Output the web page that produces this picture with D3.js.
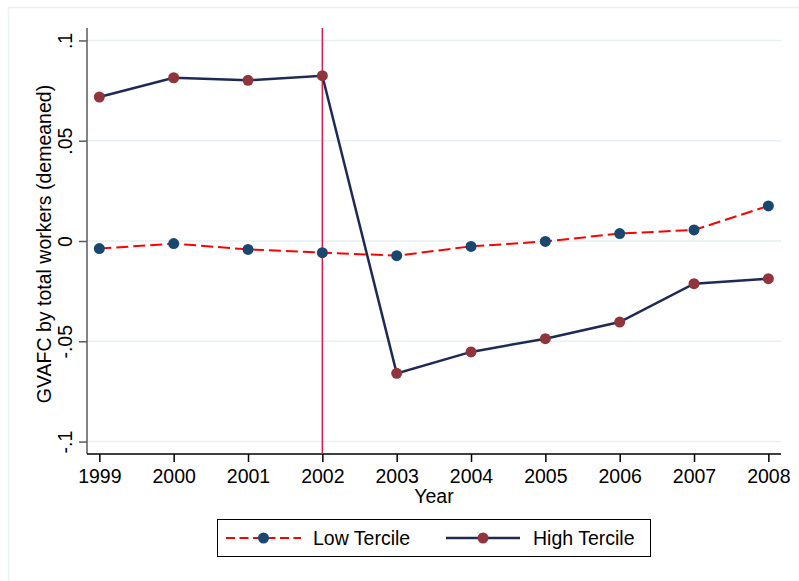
<!DOCTYPE html>
<html>
<head>
<meta charset="utf-8">
<script src="https://cdn.jsdelivr.net/npm/d3@7"></script>
<style>
  body { margin: 0; background: #fff; }
  svg { display: block; font-family: "Liberation Sans", Arial, sans-serif; }
</style>
</head>
<body>
<div id="chart"></div>
<script>
const years = [1999, 2000, 2001, 2002, 2003, 2004, 2005, 2006, 2007, 2008];
const lowTercile = [-0.0038, -0.0013, -0.0042, -0.0058, -0.0073, -0.0027, -0.0002, 0.0037, 0.0055, 0.0175];
const highTercile = [0.0718, 0.0814, 0.0801, 0.0824, -0.0660, -0.0553, -0.0487, -0.0404, -0.0213, -0.0188];
const yTicks = [-0.1, -0.05, 0, 0.05, 0.1];
const yTickLabels = ['-.1', '-.05', '0', '.05', '.1'];
const treatYear = 2002;
const seriesNames = ['Low Tercile', 'High Tercile'];

const width = 799, height = 581;
const margin = { top: 28, right: 18, bottom: 127, left: 87 };
const fontSize = 19.5;

const svg = d3.select('#chart')
    .append('svg')
    .attr('width', width)
    .attr('height', height);

// faint outer frame
svg.append('path')
    .attr('d', `M8.5,${height}V7.5H${width}`)
    .attr('fill', 'none')
    .attr('stroke', '#eaf2f3')
    .attr('stroke-width', 1.5);

const x = d3.scaleLinear()
    .domain([1998.834, 2008.17])
    .range([margin.left, width - margin.right]);

const y = d3.scaleLinear()
    .domain([-0.1062, 0.1062])
    .range([height - margin.bottom, margin.top]);

// gridlines
svg.append('g')
    .selectAll('line')
    .data(yTicks)
    .join('line')
    .attr('x1', margin.left)
    .attr('x2', width - margin.right)
    .attr('y1', d => y(d))
    .attr('y2', d => y(d))
    .attr('stroke', '#e6eff1')
    .attr('stroke-width', 1.5);

// y axis
const yAxis = svg.append('g')
    .attr('transform', `translate(${margin.left},0)`)
    .call(d3.axisLeft(y).tickValues(yTicks).tickSize(8).tickFormat((d, i) => yTickLabels[i]));
yAxis.select('.domain').attr('stroke', '#5a5a5a').attr('stroke-width', 1.5).attr('d', `M0,${margin.top}V${height - margin.bottom}`);
yAxis.selectAll('.tick line').attr('stroke', '#5a5a5a').attr('stroke-width', 1.5);
yAxis.selectAll('.tick text')
    .attr('font-size', fontSize)
    .attr('fill', '#000')
    .attr('text-anchor', 'middle')
    .attr('dy', 0)
    .attr('x', 0)
    .attr('transform', 'translate(-15,0) rotate(-90)');

// x axis
const xAxis = svg.append('g')
    .attr('transform', `translate(0,${height - margin.bottom})`)
    .call(d3.axisBottom(x).tickValues(years).tickSize(8).tickFormat(d3.format('d')));
xAxis.select('.domain').attr('stroke', '#000').attr('stroke-width', 1.5).attr('d', `M${margin.left},0H${width - margin.right}`);
xAxis.selectAll('.tick line').attr('stroke', '#000').attr('stroke-width', 1.5);
xAxis.selectAll('.tick text')
    .attr('font-size', fontSize)
    .attr('fill', '#000')
    .attr('y', 28.5)
    .attr('dy', 0);

// axis titles
svg.append('text')
    .attr('x', (margin.left + width - margin.right) / 2)
    .attr('y', 503)
    .attr('text-anchor', 'middle')
    .attr('font-size', fontSize)
    .text('Year');

svg.append('text')
    .attr('transform', `translate(51,244) rotate(-90)`)
    .attr('text-anchor', 'middle')
    .attr('font-size', fontSize)
    .text('GVAFC by total workers (demeaned)');

// treatment line
svg.append('line')
    .attr('x1', x(treatYear))
    .attr('x2', x(treatYear))
    .attr('y1', margin.top)
    .attr('y2', height - margin.bottom)
    .attr('stroke', '#d81e4a')
    .attr('stroke-width', 1.5);

const line = d3.line()
    .x((d, i) => x(years[i]))
    .y(d => y(d));

const styles = [
    { line: '#ff0000', dash: '12,5', legendDash: '9,4.5', width: 2, marker: '#1a476f' },
    { line: '#1c2a55', dash: null, legendDash: null, width: 2.5, marker: '#90353b' }
];
const allSeries = [lowTercile, highTercile];

allSeries.forEach((vals, k) => {
    const s = styles[k];
    svg.append('path')
        .datum(vals)
        .attr('d', line)
        .attr('fill', 'none')
        .attr('stroke', s.line)
        .attr('stroke-width', s.width)
        .attr('stroke-dasharray', s.dash);
    svg.append('g')
        .selectAll('circle')
        .data(vals)
        .join('circle')
        .attr('cx', (d, i) => x(years[i]))
        .attr('cy', d => y(d))
        .attr('r', 5.5)
        .attr('fill', s.marker);
});

// legend
const legend = svg.append('g');
legend.append('rect')
    .attr('x', 217.5)
    .attr('y', 519.5)
    .attr('width', 433)
    .attr('height', 37)
    .attr('fill', '#fff')
    .attr('stroke', '#000')
    .attr('stroke-width', 1);

const legendItems = [
    { x0: 226, x1: 301, tx: 313 },
    { x0: 446, x1: 520, tx: 533 }
];
legendItems.forEach((it, k) => {
    const s = styles[k];
    const ly = 538;
    legend.append('line')
        .attr('x1', it.x0).attr('x2', it.x1)
        .attr('y1', ly).attr('y2', ly)
        .attr('stroke', s.line)
        .attr('stroke-width', s.width)
        .attr('stroke-dasharray', s.legendDash);
    legend.append('circle')
        .attr('cx', (it.x0 + it.x1) / 2)
        .attr('cy', ly)
        .attr('r', 5.5)
        .attr('fill', s.marker);
    legend.append('text')
        .attr('x', it.tx)
        .attr('y', ly + 7)
        .attr('font-size', fontSize)
        .text(seriesNames[k]);
});
</script>
</body>
</html>
